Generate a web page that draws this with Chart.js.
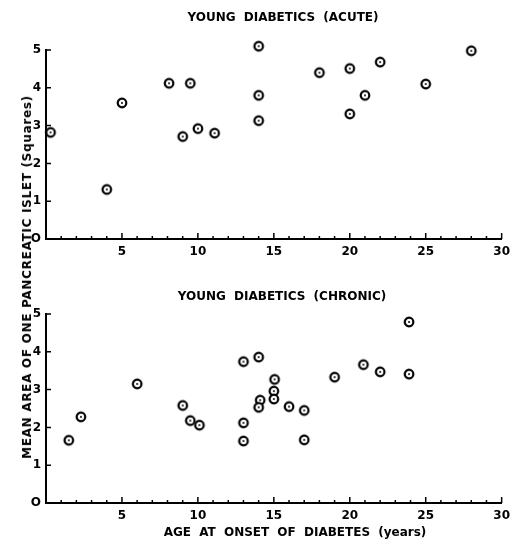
<!DOCTYPE html>
<html>
<head>
<meta charset="utf-8">
<script src="https://cdn.jsdelivr.net/npm/chart.js@4.4.1/dist/chart.umd.min.js"></script>
<style>
  body { margin: 0; background: #fff; }
  #wrap { position: relative; width: 516px; height: 541px; }
  canvas { position: absolute; left: 0; }
  .lbl {
    position: absolute;
    font: bold 12px "DejaVu Sans", sans-serif;
    color: #000;
    white-space: nowrap;
    transform: translate(-50%, -50%);
  }
</style>
</head>
<body>
<div id="wrap">
  <canvas id="acute" width="516" height="262" style="top:0"></canvas>
  <canvas id="chronic" width="516" height="276" style="top:265px"></canvas>
  <div class="lbl" style="left:283px;top:17px;word-spacing:4px">YOUNG DIABETICS (ACUTE)</div>
  <div class="lbl" style="left:282px;top:296px;word-spacing:4px">YOUNG DIABETICS (CHRONIC)</div>
  <div class="lbl" style="left:295px;top:532px;word-spacing:4px">AGE AT ONSET OF DIABETES (years)</div>
  <div class="lbl" style="left:27px;top:277px;transform:translate(-50%,-50%) rotate(-90deg);letter-spacing:0.7px">MEAN AREA OF ONE PANCREATIC ISLET (Squares)</div>
</div>
<script>
// young diabetics, acute
const acuteAge  = [0.3, 4, 5, 8.1, 9.5, 9, 10, 11.1, 14, 14, 14, 18, 20, 22, 28, 25, 21, 20];
const acuteArea = [2.82, 1.31, 3.6, 4.12, 4.12, 2.71, 2.92, 2.8, 5.1, 3.8, 3.13, 4.4, 4.51, 4.68, 4.98, 4.1, 3.8, 3.31];

// young diabetics, chronic
const chronicAge  = [1.5, 2.3, 6, 9, 9.5, 10.1, 13, 13, 13, 14, 14.1, 14, 15.05, 15, 15, 16, 17, 17, 19, 20.9, 22, 23.9, 23.9];
const chronicArea = [1.66, 2.28, 3.15, 2.58, 2.18, 2.06, 3.74, 2.12, 1.64, 3.86, 2.72, 2.53, 3.27, 2.96, 2.75, 2.55, 2.45, 1.67, 3.33, 3.66, 3.47, 4.79, 3.41];

const xTicks = [0, 5, 10, 15, 20, 25, 30];
const yTicks = [0, 1, 2, 3, 4, 5];

Chart.defaults.font.family = '"DejaVu Sans", sans-serif';
Chart.defaults.font.weight = 'bold';
Chart.defaults.font.size = 12;
Chart.defaults.color = '#000';

// circle with a dot, like the printed marker
function ringDot() {
    const c = document.createElement('canvas');
    c.width = 14; c.height = 14;
    const g = c.getContext('2d');
    g.beginPath();
    g.arc(7, 7, 4.3, 0, 2 * Math.PI);
    g.fillStyle = '#fff';
    g.fill();
    g.lineWidth = 2.2;
    g.strokeStyle = '#000';
    g.stroke();
    g.beginPath();
    g.arc(7, 7, 1, 0, 2 * Math.PI);
    g.fillStyle = '#000';
    g.fill();
    return c;
}
const marker = ringDot();

// small ticks pointing into the plot
const innerTicks = {
    id: 'innerTicks',
    afterDraw(chart) {
        const ctx = chart.ctx;
        const x = chart.scales.x, y = chart.scales.y;
        ctx.save();
        ctx.strokeStyle = '#000';
        ctx.lineWidth = 1.5;
        ctx.beginPath();
        for (let v = 1; v <= 30; v++) {
            const px = x.getPixelForValue(v);
            const len = v % 5 == 0 ? 6 : 3;
            ctx.moveTo(px, y.bottom);
            ctx.lineTo(px, y.bottom - len);
        }
        for (let v = 1; v <= 5; v++) {
            const py = y.getPixelForValue(v);
            ctx.moveTo(x.left, py);
            ctx.lineTo(x.left + 5, py);
        }
        ctx.stroke();
        ctx.restore();
    }
};

function makeChart(id, ages, areas, top, xHeight) {
    return new Chart(id, {
        type: 'scatter',
        data: {
            datasets: [{
                data: ages.map((a, i) => ({x: a, y: areas[i]})),
                pointStyle: marker,
                pointRadius: 5,
                clip: false
            }]
        },
        options: {
            responsive: false,
            animation: false,
            events: [],
            layout: {padding: {top: top, right: 13, bottom: 0, left: 0}},
            plugins: {legend: {display: false}, tooltip: {enabled: false}},
            scales: {
                x: {
                    type: 'linear',
                    min: 0, max: 30,
                    afterBuildTicks: s => { s.ticks = xTicks.map(v => ({value: v})); },
                    afterFit: s => { s.height = xHeight; },
                    grid: {display: false, drawTicks: false, tickLength: 0},
                    border: {display: true, color: '#000', width: 2},
                    ticks: {padding: 6, callback: v => v == 0 ? '' : v}
                },
                y: {
                    type: 'linear',
                    min: 0, max: 5,
                    afterBuildTicks: s => { s.ticks = yTicks.map(v => ({value: v})); },
                    afterFit: s => { s.width = 46; },
                    grid: {display: false, drawTicks: false, tickLength: 0},
                    border: {display: true, color: '#000', width: 2},
                    ticks: {padding: 5, callback: v => v == 0 ? 'O' : v}
                }
            }
        },
        plugins: [innerTicks]
    });
}

makeChart('acute', acuteAge, acuteArea, 50, 23);
makeChart('chronic', chronicAge, chronicArea, 49, 38);
</script>
</body>
</html>
